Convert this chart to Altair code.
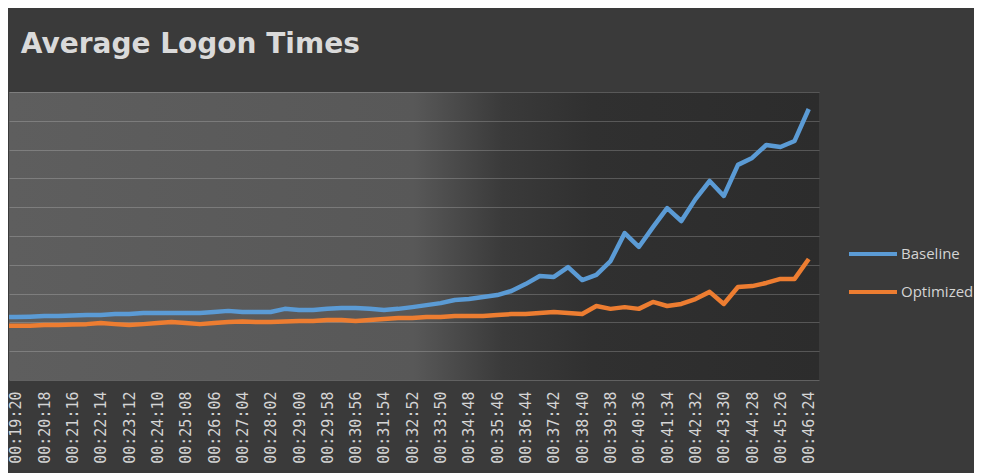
import altair as alt
import pandas as pd

times = ["00:18:51", "00:19:20", "00:19:49", "00:20:18", "00:20:47", "00:21:16", "00:21:45",
         "00:22:14", "00:22:43", "00:23:12", "00:23:41", "00:24:10", "00:24:39", "00:25:08",
         "00:25:37", "00:26:06", "00:26:35", "00:27:04", "00:27:33", "00:28:02", "00:28:31",
         "00:29:00", "00:29:29", "00:29:58", "00:30:27", "00:30:56", "00:31:25", "00:31:54",
         "00:32:23", "00:32:52", "00:33:21", "00:33:50", "00:34:19", "00:34:48", "00:35:17",
         "00:35:46", "00:36:15", "00:36:44", "00:37:13", "00:37:42", "00:38:11", "00:38:40",
         "00:39:09", "00:39:38", "00:40:07", "00:40:36", "00:41:05", "00:41:34", "00:42:03",
         "00:42:32", "00:43:01", "00:43:30", "00:43:59", "00:44:28", "00:44:57", "00:45:26",
         "00:45:55", "00:46:24"]

baseline = [21.9, 21.9, 22.0, 22.2, 22.2, 22.4, 22.6, 22.6, 22.9, 22.9,
            23.3, 23.3, 23.3, 23.3, 23.3, 23.6, 24.0, 23.6, 23.6, 23.6,
            24.7, 24.3, 24.3, 24.7, 25.0, 25.0, 24.7, 24.3, 24.7, 25.3,
            26.0, 26.7, 27.8, 28.1, 28.8, 29.5, 30.9, 33.3, 36.1, 35.8,
            39.2, 34.7, 36.5, 41.3, 51.0, 46.2, 53.1, 59.7, 55.2, 62.8,
            69.1, 63.9, 74.7, 77.1, 81.6, 80.9, 83.0, 94.1]

optimized = [18.8, 18.8, 18.8, 19.1, 19.1, 19.3, 19.4, 19.8, 19.4, 19.1,
             19.4, 19.8, 20.1, 19.8, 19.4, 19.8, 20.1, 20.3, 20.1, 20.1,
             20.3, 20.5, 20.5, 20.8, 20.8, 20.5, 20.8, 21.2, 21.5, 21.5,
             21.9, 21.9, 22.2, 22.2, 22.2, 22.6, 22.9, 22.9, 23.3, 23.6,
             23.3, 22.9, 25.7, 24.7, 25.3, 24.7, 27.1, 25.7, 26.4, 28.1,
             30.6, 26.4, 32.3, 32.6, 33.7, 35.1, 35.1, 42.0]

tick_labels = ["00:19:20", "00:20:18", "00:21:16", "00:22:14", "00:23:12", "00:24:10",
               "00:25:08", "00:26:06", "00:27:04", "00:28:02", "00:29:00", "00:29:58",
               "00:30:56", "00:31:54", "00:32:52", "00:33:50", "00:34:48", "00:35:46",
               "00:36:44", "00:37:42", "00:38:40", "00:39:38", "00:40:36", "00:41:34",
               "00:42:32", "00:43:30", "00:44:28", "00:45:26", "00:46:24"]

series_names = ["Baseline", "Optimized"]
series_colors = ["#5b9bd5", "#ed7d31"]


def to_sec(s):
    h, m, sec = (int(p) for p in s.split(":"))
    return h * 3600 + m * 60 + sec


rows = []
for t, b, o in zip(times, baseline, optimized):
    rows.append({"t": to_sec(t), "series": "Baseline", "value": b})
    rows.append({"t": to_sec(t), "series": "Optimized", "value": o})
df = pd.DataFrame(rows)

tick_values = [to_sec(s) for s in tick_labels]

bg_gradient = ("{gradient: 'linear', x1: 0, y1: 0, x2: 1, y2: 0, stops: ["
               "{offset: 0, color: '#5e5e5e'}, {offset: 0.5, color: '#585858'}, "
               "{offset: 0.61, color: '#3a3a3a'}, {offset: 0.72, color: '#303030'}, "
               "{offset: 1, color: '#2c2c2c'}]}")

chart = alt.Chart(df).mark_line(strokeWidth=4.5, clip=True, strokeJoin="round").encode(
    x=alt.X("t:Q",
            scale=alt.Scale(domain=[1146, 2805], nice=False, zero=False),
            axis=alt.Axis(values=tick_values, labelExpr="utcFormat(datum.value * 1000, '%H:%M:%S')",
                          labelAngle=-90, labelFont="DejaVu Sans Mono", labelFontSize=15,
                          labelColor="#d4d4d4", labelPadding=11, ticks=False, domain=False,
                          grid=False, title=None, labelOverlap=False)),
    y=alt.Y("value:Q",
            scale=alt.Scale(domain=[0, 100], nice=False),
            axis=alt.Axis(values=list(range(0, 101, 10)), labels=False, ticks=False, domain=False,
                          grid=True, gridColor="#ffffff", gridOpacity=0.2, gridWidth=1, title=None)),
    color=alt.Color("series:N",
                    scale=alt.Scale(domain=series_names, range=series_colors),
                    legend=alt.Legend(title=None, orient="none", legendX=838, legendY=136,
                                      symbolType="stroke", symbolSize=2304, symbolStrokeWidth=4,
                                      labelFont="Open Sans", labelFontSize=15, labelColor="#d4d4d4",
                                      labelOffset=2, rowPadding=4)),
).properties(
    width=810,
    height=288,
    title=alt.TitleParams("Average Logon Times", anchor="start", font="DejaVu Sans",
                          fontSize=28, fontWeight="bold", color="#dadada", dx=12, offset=33),
    padding={"left": 0, "top": 23, "right": 0, "bottom": 14},
    background="#3a3a3a",
).configure_view(
    stroke=None,
    fill={"expr": bg_gradient},
)

chart.save("out.html", embed_options={"renderer": "svg", "actions": False})
